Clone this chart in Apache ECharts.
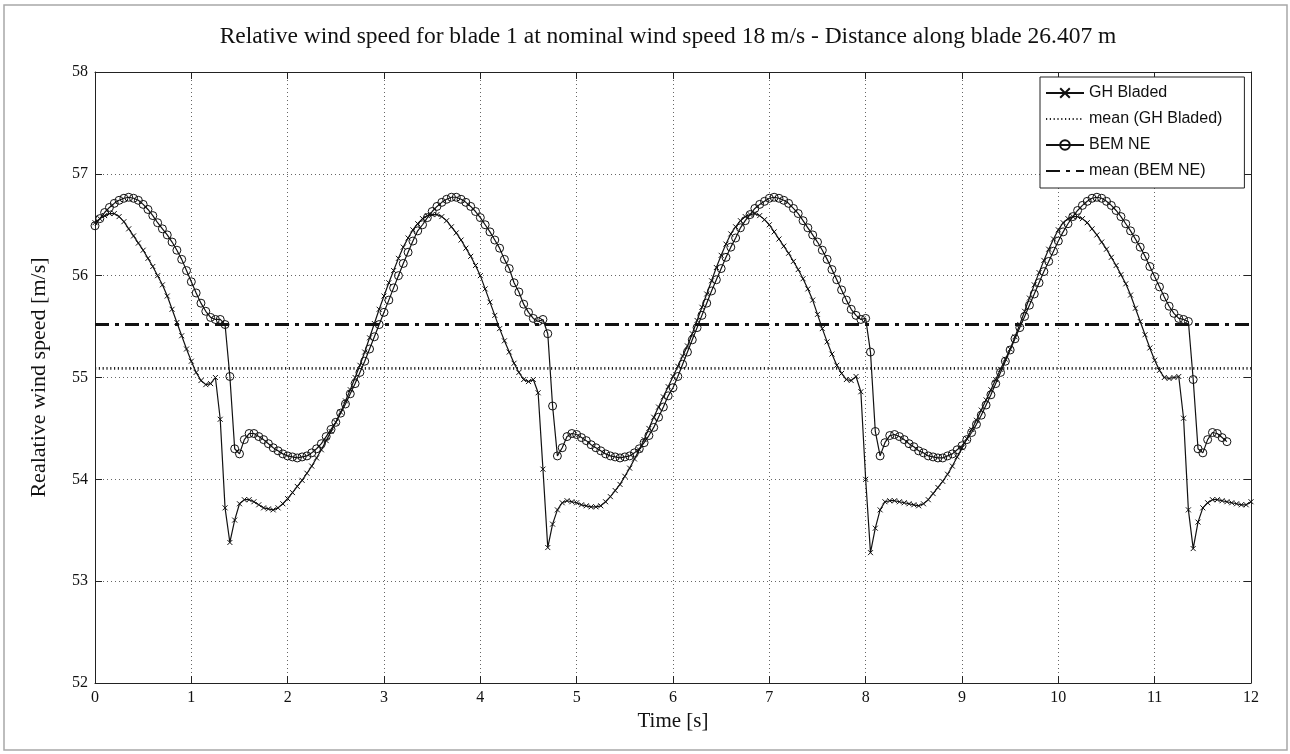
<!DOCTYPE html>
<html>
<head>
<meta charset="utf-8">
<script src="https://cdn.jsdelivr.net/npm/echarts@6/dist/echarts.min.js"></script>
<style>
  html, body { margin: 0; padding: 0; background: #fff; }
  #chart { width: 1290px; height: 754px; }
</style>
</head>
<body>
<div id="chart"></div>
<script>
// ---- Data ----
const titleText = 'Relative wind speed for blade 1 at nominal wind speed 18 m/s - Distance along blade 26.407 m';
const xName = 'Time [s]';
const yName = 'Realative wind speed [m/s]';
const seriesNames = ['GH Bladed', 'mean (GH Bladed)', 'BEM NE', 'mean (BEM NE)'];
const sampleStep = 0.05; // sampling interval of both signals [s]

// GH Bladed, t = 0 ... 12.00 s
const ghBladed = [
  56.52, 56.56, 56.59, 56.61, 56.61, 56.58, 56.53, 56.46, 56.39, 56.32, 56.25, 56.17, 56.09, 56.00, 55.91, 55.80, 55.67, 55.54, 55.41, 55.28,
  55.16, 55.05, 54.97, 54.93, 54.94, 55.00, 54.59, 53.72, 53.38, 53.60, 53.76, 53.80, 53.80, 53.78, 53.75, 53.72, 53.71, 53.70, 53.72, 53.76,
  53.81, 53.87, 53.93, 53.99, 54.06, 54.13, 54.21, 54.29, 54.38, 54.47, 54.56, 54.66, 54.77, 54.88, 55.00, 55.12, 55.25, 55.39, 55.53, 55.67,
  55.80, 55.93, 56.05, 56.17, 56.28, 56.37, 56.45, 56.51, 56.56, 56.59, 56.60, 56.60, 56.58, 56.54, 56.48, 56.42, 56.35, 56.27, 56.19, 56.10,
  56.00, 55.87, 55.74, 55.61, 55.48, 55.36, 55.25, 55.14, 55.05, 54.98, 54.96, 54.98, 54.85, 54.10, 53.33, 53.56, 53.70, 53.77, 53.79, 53.78,
  53.77, 53.75, 53.74, 53.73, 53.73, 53.74, 53.78, 53.83, 53.89, 53.95, 54.03, 54.11, 54.20, 54.29, 54.39, 54.50, 54.61, 54.71, 54.81, 54.91,
  55.01, 55.11, 55.21, 55.31, 55.43, 55.56, 55.69, 55.82, 55.95, 56.08, 56.20, 56.31, 56.41, 56.48, 56.54, 56.58, 56.60, 56.61, 56.59, 56.55,
  56.50, 56.43, 56.36, 56.29, 56.22, 56.14, 56.06, 55.97, 55.87, 55.76, 55.62, 55.48, 55.35, 55.23, 55.12, 55.04, 54.98, 54.97, 55.01, 54.86,
  54.00, 53.28, 53.52, 53.70, 53.78, 53.79, 53.79, 53.78, 53.77, 53.76, 53.75, 53.74, 53.76, 53.80, 53.86, 53.92, 53.98, 54.05, 54.13, 54.22,
  54.31, 54.40, 54.49, 54.58, 54.68, 54.78, 54.88, 54.98, 55.08, 55.18, 55.28, 55.40, 55.52, 55.65, 55.78, 55.91, 56.03, 56.15, 56.26, 56.36,
  56.45, 56.52, 56.56, 56.58, 56.58, 56.56, 56.52, 56.46, 56.40, 56.33, 56.26, 56.18, 56.10, 56.01, 55.92, 55.81, 55.68, 55.55, 55.42, 55.29,
  55.17, 55.07, 55.00, 54.99, 55.00, 55.01, 54.60, 53.70, 53.32, 53.58, 53.72, 53.77, 53.80, 53.80, 53.79, 53.78, 53.77, 53.76, 53.75, 53.75,
  53.78
];

// BEM NE, t = 0 ... 11.75 s
const bemNE = [
  56.49, 56.56, 56.62, 56.67, 56.71, 56.74, 56.76, 56.77, 56.76, 56.74, 56.70, 56.65, 56.59, 56.52, 56.46, 56.40, 56.33, 56.25, 56.16, 56.05,
  55.94, 55.83, 55.73, 55.65, 55.59, 55.57, 55.57, 55.52, 55.01, 54.30, 54.25, 54.39, 54.45, 54.45, 54.42, 54.39, 54.35, 54.31, 54.28, 54.25,
  54.23, 54.22, 54.21, 54.22, 54.23, 54.26, 54.30, 54.35, 54.42, 54.49, 54.56, 54.65, 54.74, 54.84, 54.94, 55.05, 55.16, 55.28, 55.40, 55.52,
  55.64, 55.76, 55.88, 56.00, 56.12, 56.23, 56.34, 56.44, 56.50, 56.57, 56.63, 56.68, 56.72, 56.75, 56.77, 56.77, 56.75, 56.72, 56.68, 56.63,
  56.57, 56.50, 56.43, 56.35, 56.27, 56.16, 56.07, 55.93, 55.84, 55.72, 55.64, 55.58, 55.55, 55.57, 55.43, 54.72, 54.23, 54.31, 54.42, 54.45,
  54.44, 54.41, 54.38, 54.34, 54.31, 54.28, 54.25, 54.23, 54.22, 54.21, 54.22, 54.23, 54.26, 54.30, 54.36, 54.43, 54.51, 54.61, 54.71, 54.82,
  54.90, 55.01, 55.13, 55.25, 55.37, 55.49, 55.61, 55.73, 55.85, 55.96, 56.07, 56.18, 56.28, 56.37, 56.47, 56.54, 56.60, 56.66, 56.70, 56.73,
  56.76, 56.77, 56.76, 56.74, 56.71, 56.66, 56.61, 56.54, 56.47, 56.40, 56.33, 56.25, 56.16, 56.06, 55.96, 55.86, 55.76, 55.67, 55.61, 55.57,
  55.58, 55.25, 54.47, 54.23, 54.36, 54.43, 54.44, 54.42, 54.39, 54.35, 54.32, 54.28, 54.26, 54.23, 54.22, 54.21, 54.21, 54.23, 54.25, 54.29,
  54.33, 54.39, 54.46, 54.54, 54.63, 54.73, 54.83, 54.94, 55.05, 55.16, 55.27, 55.38, 55.49, 55.60, 55.71, 55.82, 55.93, 56.04, 56.14, 56.24,
  56.34, 56.43, 56.51, 56.58, 56.64, 56.69, 56.73, 56.76, 56.77, 56.76, 56.73, 56.69, 56.64, 56.58, 56.51, 56.44, 56.36, 56.28, 56.19, 56.09,
  55.99, 55.89, 55.79, 55.70, 55.63, 55.58, 55.57, 55.55, 54.98, 54.30, 54.26, 54.39, 54.46, 54.45, 54.41, 54.37
];

const meanGH = 55.09;
const meanBEM = 55.52;
const xRange = [0, 12];
const yRange = [52, 58];

// ---- Build option ----
function pairs(values) {
  return values.map((v, i) => [Math.round(i * sampleStep * 1000) / 1000, v]);
}
const serif = '"Liberation Serif", "DejaVu Serif", serif';
const sans = '"Liberation Sans", Arial, sans-serif';
const ink = '#111';
const clear = 'rgba(0,0,0,0)';

const chart = echarts.init(document.getElementById('chart'), null, { renderer: 'canvas' });

const baseX = {
  type: 'value', min: xRange[0], max: xRange[1], interval: 1,
  axisLine: { show: true, onZero: false, lineStyle: { color: '#222', width: 1 } },
  axisTick: { show: true, inside: true, length: 7, lineStyle: { color: '#222' } }
};
const baseY = {
  type: 'value', min: yRange[0], max: yRange[1], interval: 1,
  axisLine: { show: true, onZero: false, lineStyle: { color: '#222', width: 1 } },
  axisTick: { show: true, inside: true, length: 7, lineStyle: { color: '#222' } }
};
const gridLine = { show: true, lineStyle: { color: '#666', width: 1, type: [1, 3] } };

chart.setOption({
  animation: false,
  backgroundColor: '#fff',
  title: {
    text: titleText,
    left: 663, top: 20, textAlign: 'center',
    textStyle: { fontFamily: serif, fontSize: 23.5, fontWeight: 'normal', color: ink }
  },
  legend: {
    data: [
      { name: seriesNames[0] },
      { name: seriesNames[1], itemStyle: { color: clear, borderColor: clear, borderWidth: 0 } },
      { name: seriesNames[2] },
      { name: seriesNames[3], itemStyle: { color: clear, borderColor: clear, borderWidth: 0 } }
    ],
    orient: 'vertical',
    left: 1040, top: 77,
    itemWidth: 38, itemHeight: 12, itemGap: 10,
    padding: [8, 22, 9, 5],
    backgroundColor: '#fff',
    borderColor: '#222', borderWidth: 1, borderRadius: 0,
    selectedMode: false,
    textStyle: { fontFamily: sans, fontSize: 16, color: ink }
  },
  grid: { left: 95, right: 39, top: 72, bottom: 71, containLabel: false },
  xAxis: [
    Object.assign({}, baseX, {
      position: 'bottom',
      name: xName, nameLocation: 'middle', nameGap: 25,
      nameTextStyle: { fontFamily: serif, fontSize: 21, color: ink },
      axisLabel: { show: true, margin: 7, fontFamily: serif, fontSize: 16, color: ink },
      splitLine: gridLine
    }),
    Object.assign({}, baseX, {
      position: 'top', axisLabel: { show: false }, splitLine: { show: false }
    })
  ],
  yAxis: [
    Object.assign({}, baseY, {
      position: 'left',
      name: yName, nameLocation: 'middle', nameGap: 45, nameRotate: 90,
      nameTextStyle: { fontFamily: serif, fontSize: 22, color: ink },
      axisLabel: { show: true, margin: 7, fontFamily: serif, fontSize: 16, color: ink },
      splitLine: gridLine
    }),
    Object.assign({}, baseY, {
      position: 'right', axisLabel: { show: false }, splitLine: { show: false }
    })
  ],
  graphic: [{
    type: 'rect', silent: true, z: -10,
    shape: { x: 4, y: 5, width: 1283, height: 745 },
    style: { fill: 'none', stroke: '#a8a8a8', lineWidth: 1.5 }
  }],
  series: [
    {
      name: seriesNames[0], type: 'line', data: pairs(ghBladed),
      showSymbol: true, showAllSymbol: true,
      symbol: 'path://M0,0L10,10M10,0L0,10', symbolSize: 5,
      itemStyle: { color: ink, borderColor: ink, borderWidth: 1 },
      lineStyle: { color: ink, width: 1.2 },
      z: 2
    },
    {
      name: seriesNames[1], type: 'line',
      data: [[xRange[0], meanGH], [xRange[1], meanGH]],
      symbol: 'none', showSymbol: false,
      itemStyle: { color: ink },
      lineStyle: { color: '#222', width: 2.6, type: [1.2, 2.6] },
      z: 3
    },
    {
      name: seriesNames[2], type: 'line', data: pairs(bemNE),
      showSymbol: true, showAllSymbol: true,
      symbol: 'circle', symbolSize: 8,
      itemStyle: { color: clear, borderColor: ink, borderWidth: 1 },
      lineStyle: { color: ink, width: 1.2 },
      z: 4
    },
    {
      name: seriesNames[3], type: 'line',
      data: [[xRange[0], meanBEM], [xRange[1], meanBEM]],
      symbol: 'none', showSymbol: false,
      itemStyle: { color: ink },
      lineStyle: { color: ink, width: 3, type: [14, 6, 4, 6] },
      z: 5
    }
  ]
});
</script>
</body>
</html>
